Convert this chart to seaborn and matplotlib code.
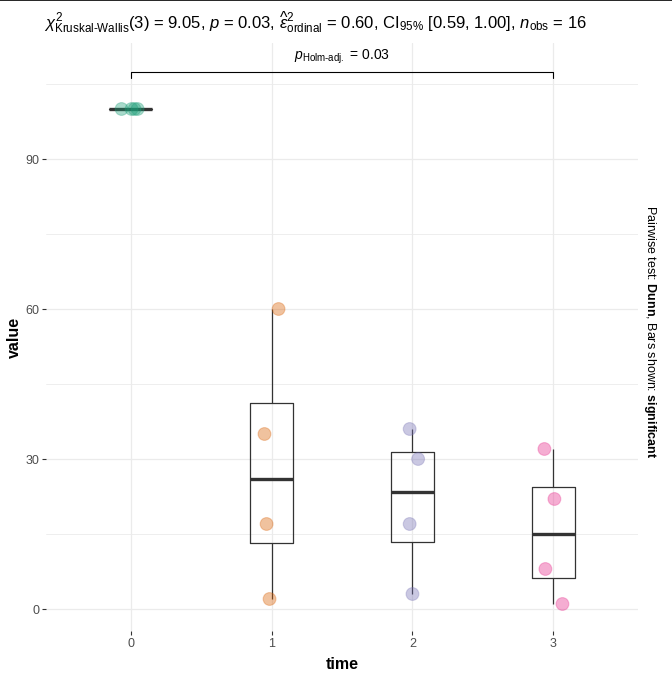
import matplotlib
matplotlib.use("Agg")
import matplotlib.pyplot as plt
from matplotlib.lines import Line2D
import seaborn as sns
import numpy as np
import pandas as pd

# ---- data ----
times = ["0", "1", "2", "3"]
values_t0 = [100, 100, 100, 100]
values_t1 = [60, 35, 17, 2]
values_t2 = [36, 30, 17, 3]
values_t3 = [32, 22, 8, 1]
jitter_t0 = [-0.064, 0.007, 0.028, 0.05]
jitter_t1 = [0.05, -0.05, -0.035, -0.014]
jitter_t2 = [-0.02, 0.04, -0.02, 0.0]
jitter_t3 = [-0.064, 0.007, -0.057, 0.064]
palette = ["#1B9E77", "#D95F02", "#7570B3", "#E7298A"]

groups = [values_t0, values_t1, values_t2, values_t3]
jits = [jitter_t0, jitter_t1, jitter_t2, jitter_t3]
rows = []
for i, (t, vals, jit) in enumerate(zip(times, groups, jits)):
    for v, j in zip(vals, jit):
        rows.append({"time": t, "value": v, "xpos": i + j})
df = pd.DataFrame(rows)

sns.set_theme(style="white")
plt.rcParams["font.family"] = ["Liberation Sans", "DejaVu Sans"]
plt.rcParams["mathtext.fontset"] = "custom"
plt.rcParams["mathtext.rm"] = "Liberation Sans"
plt.rcParams["mathtext.it"] = "Liberation Sans:italic"
plt.rcParams["mathtext.bf"] = "Liberation Sans:bold"
plt.rcParams["text.color"] = "black"
plt.rcParams["axes.labelcolor"] = "black"

fig = plt.figure(figsize=(6.72, 6.81), dpi=100)
ax = fig.add_axes([46 / 672, 1 - 631 / 681, (638 - 46) / 672, (631 - 43) / 681])

# grid
for y in [0, 30, 60, 90]:
    ax.axhline(y, color="#EBEBEB", lw=0.9, zorder=0)
for y in [15, 45, 75, 105]:
    ax.axhline(y, color="#EBEBEB", lw=0.6, zorder=0)
for x in range(4):
    ax.axvline(x, color="#EBEBEB", lw=0.9, zorder=0)

sns.boxplot(data=df, x="time", y="value", order=times, width=0.3, fill=False,
            color="#333333", linewidth=0.9, showfliers=False, showcaps=False,
            whis=1.5, medianprops=dict(color="#333333", linewidth=2.4),
            ax=ax, zorder=2)

sns.scatterplot(data=df, x="xpos", y="value", hue="time", hue_order=times,
                palette=palette, s=85, alpha=0.38, edgecolor=None, linewidth=0,
                legend=False, ax=ax, zorder=3)
# rim
for i, t in enumerate(times):
    sub = df[df.time == t]
    ax.scatter(sub.xpos, sub.value, s=85, facecolors="none",
               edgecolors=palette[i], alpha=0.3, linewidths=0.8, zorder=4)

ax.set_xlim(-0.6, 3.6)
ax.set_ylim(-4.4, 113.2)
ax.set_xticks(range(4))
ax.set_xticklabels(times)
ax.set_yticks([0, 30, 60, 90])
for s in ax.spines.values():
    s.set_visible(False)
ax.tick_params(axis="both", length=3, width=0.8, color="#333333",
               labelcolor="#4D4D4D", labelsize=9, pad=2, bottom=True, left=True)
ax.set_xlabel("time", fontsize=11.5, fontweight="bold", labelpad=5)
ax.set_ylabel("value", fontsize=11.5, fontweight="bold", labelpad=2)

# pairwise bracket
ax.plot([0, 0, 3, 3], [106.2, 107.4, 107.4, 106.2], color="black", lw=0.8, zorder=5)
ax.text(1.5, 108.6, r"$\mathit{p}_{\mathrm{Holm\text{-}adj.}}$ = 0.03", ha="center",
        va="bottom", fontsize=10)

fig.text(315 / 672, 1 - 22 / 681,
         r"$\chi^2_{\mathrm{Kruskal\text{-}Wallis}}$(3) = 9.05, $\mathit{p}$ = 0.03, "
         r"$\widehat{\epsilon}^2_{\mathrm{ordinal}}$ = 0.60, CI$_{95\%}$ [0.59, 1.00], "
         r"$\mathit{n}_{\mathrm{obs}}$ = 16",
         ha="center", va="center", fontsize=12)

fig.text(650 / 672, 1 - 332 / 681,
         r"Pairwise test: $\bf{Dunn}$, Bars shown: $\bf{significant}$",
         rotation=-90, ha="center", va="center", fontsize=9)

fig.add_artist(Line2D([0, 1], [0.9995, 0.9995], color="black", lw=1.2,
                      transform=fig.transFigure))

fig.savefig("out.png", dpi=100, facecolor="white")
